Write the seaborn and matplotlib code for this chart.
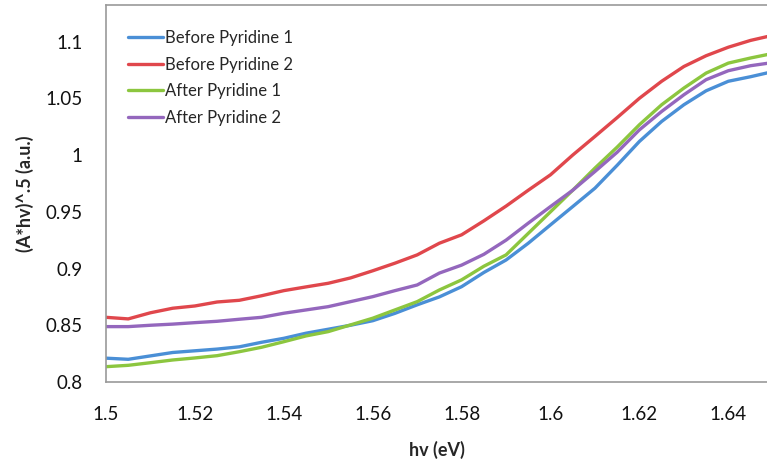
import numpy as np
import pandas as pd
import matplotlib
matplotlib.use("Agg")
import matplotlib.pyplot as plt
import seaborn as sns
from matplotlib.ticker import FuncFormatter

# ---- data ----
hv = [1.500, 1.505, 1.510, 1.515, 1.520, 1.525, 1.530, 1.535, 1.540, 1.545,
      1.550, 1.555, 1.560, 1.565, 1.570, 1.575, 1.580, 1.585, 1.590, 1.595,
      1.600, 1.605, 1.610, 1.615, 1.620, 1.625, 1.630, 1.635, 1.640, 1.645, 1.650]

before_pyr_1 = [0.821, 0.820, 0.823, 0.826, 0.8275, 0.829, 0.831, 0.835, 0.8385, 0.843,
                0.8465, 0.850, 0.854, 0.8605, 0.868, 0.875, 0.884, 0.8965, 0.9075, 0.9223,
                0.9385, 0.9546, 0.9708, 0.991, 1.012, 1.0296, 1.0443, 1.0566, 1.065, 1.069, 1.0735]
before_pyr_2 = [0.857, 0.8556, 0.861, 0.865, 0.867, 0.8705, 0.872, 0.876, 0.8805, 0.8838,
                0.887, 0.8917, 0.898, 0.9047, 0.912, 0.9223, 0.9297, 0.942, 0.955, 0.969,
                0.9826, 1.000, 1.0164, 1.033, 1.050, 1.065, 1.078, 1.0875, 1.095, 1.101, 1.1055]
after_pyr_1 = [0.8135, 0.8147, 0.817, 0.8194, 0.8212, 0.8232, 0.8267, 0.8306, 0.8355, 0.8406,
               0.8444, 0.8503, 0.8562, 0.8635, 0.8708, 0.8811, 0.890, 0.902, 0.912, 0.931,
               0.950, 0.969, 0.9885, 1.007, 1.0267, 1.0443, 1.059, 1.0722, 1.081, 1.0855, 1.0895]
after_pyr_2 = [0.8488, 0.8488, 0.850, 0.851, 0.8523, 0.8535, 0.8553, 0.857, 0.8606, 0.8635,
               0.8664, 0.8708, 0.8752, 0.8805, 0.8855, 0.896, 0.903, 0.9125, 0.925, 0.940,
               0.9546, 0.969, 0.9855, 1.0025, 1.0222, 1.0384, 1.0531, 1.0664, 1.0743, 1.0787, 1.0815]

series_names = ["Before Pyridine 1", "Before Pyridine 2", "After Pyridine 1", "After Pyridine 2"]
series_values = [before_pyr_1, before_pyr_2, after_pyr_1, after_pyr_2]
colors = ["#4a8fd6", "#e0474c", "#8cc63f", "#9467bd"]

x_ticks = [1.50, 1.52, 1.54, 1.56, 1.58, 1.60, 1.62, 1.64]
y_ticks = [0.80, 0.85, 0.90, 0.95, 1.00, 1.05, 1.10]

df = pd.concat(
    [pd.DataFrame({"hv": hv, "val": v, "series": n}) for n, v in zip(series_names, series_values)],
    ignore_index=True,
)

sns.set_style("white")
plt.rcParams["font.family"] = ["Lato", "DejaVu Sans"]

fig = plt.figure(figsize=(7.67, 4.62), dpi=100)
ax = fig.add_axes([106 / 767, 1 - 382 / 462, 1 - 106 / 767, (382 - 5) / 462])

sns.lineplot(data=df, x="hv", y="val", hue="series", hue_order=series_names,
             palette=colors, linewidth=2.4, ax=ax, legend=True)

ax.set_xlim(1.5, 1.6487)
ax.set_ylim(0.8, 1.1322)
ax.set_xticks(x_ticks)
ax.set_yticks(y_ticks)
fmt = FuncFormatter(lambda v, p: f"{v:g}")
ax.xaxis.set_major_formatter(fmt)
ax.yaxis.set_major_formatter(fmt)

for s in ["left", "top", "bottom"]:
    ax.spines[s].set_color("#9a9a9a")
    ax.spines[s].set_linewidth(1.2)
ax.spines["right"].set_visible(False)

ax.tick_params(axis="both", which="major", direction="out", length=6, width=1.2,
               color="#9a9a9a", labelsize=13.5, labelcolor="#111111")
ax.tick_params(axis="x", pad=11)
ax.tick_params(axis="y", pad=11)

ax.set_xlabel("hv (eV)", fontsize=13, fontweight="bold", labelpad=13)
ax.set_ylabel("(A*hv)^.5 (a.u.)", fontsize=13, fontweight="bold", labelpad=8)

leg = ax.legend(loc="upper left", bbox_to_anchor=(0.0333, 0.934), frameon=False,
                fontsize=12, handlelength=2.1, handletextpad=0.12, labelspacing=0.64,
                borderaxespad=0.0, borderpad=0.0)
for line in leg.get_lines():
    line.set_linewidth(2.4)

fig.savefig("out.png", dpi=100)
